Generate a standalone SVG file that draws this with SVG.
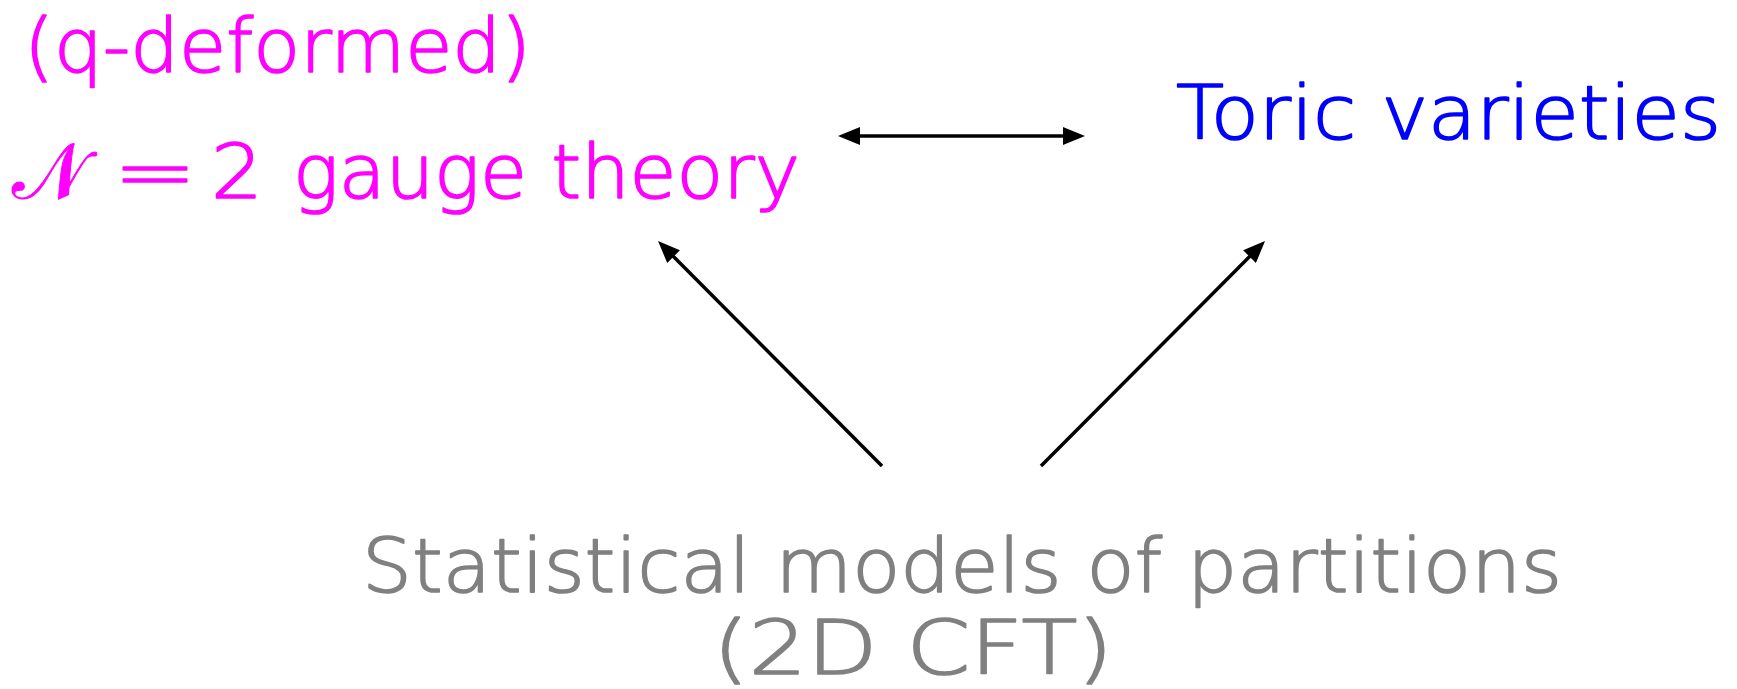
<svg xmlns="http://www.w3.org/2000/svg" width="1737" height="689" viewBox="0 0 1737 689">
<defs>
<style>
.t{font-family:"DejaVu Sans","Liberation Sans",sans-serif;font-size:74px;font-weight:200;stroke-width:1.6;stroke-linejoin:round}
.mg{fill:#ff00ff;stroke:#ff00ff}
.bl{fill:#0000ff;stroke:#0000ff}
.gr{fill:#808080;stroke:#808080}
.c{stroke:#000;stroke-width:3.5;fill:none}
</style>
<marker id="ah" markerUnits="userSpaceOnUse" markerWidth="22" markerHeight="18" refX="14" refY="9" orient="auto-start-reverse" viewBox="0 0 22 18">
<path d="M0,0 L22,9 L0,18 z" fill="#000"/>
</marker>
</defs>
<rect width="1737" height="689" fill="#fff"/>
<g id="gauge">
<text class="t mg" x="24" y="72" font-size="77" textLength="507" lengthAdjust="spacingAndGlyphs">(q-deformed)</text>
<text class="mg" x="12" y="198" font-family="DejaVu Serif, Liberation Serif, serif" font-size="78">𝒩</text>
<text class="t mg" x="113" y="198" textLength="84" lengthAdjust="spacingAndGlyphs">=</text>
<text class="t mg" x="211" y="198" textLength="52" lengthAdjust="spacingAndGlyphs">2</text>
<text class="t mg" x="293" y="198" textLength="507" lengthAdjust="spacingAndGlyphs">gauge theory</text>
</g>
<g id="toric">
<text class="t bl" x="1176" y="139" textLength="545" lengthAdjust="spacingAndGlyphs">Toric varieties</text>
</g>
<g id="stat">
<text class="t gr" x="362" y="592" textLength="1200" lengthAdjust="spacingAndGlyphs">Statistical models of partitions</text>
<text class="t gr" x="713" y="674" textLength="400" lengthAdjust="spacingAndGlyphs">(2D CFT)</text>
</g>
<g id="connectors">
<line class="c" x1="846" y1="136" x2="1077" y2="136" marker-start="url(#ah)" marker-end="url(#ah)"/>
<line class="c" x1="882" y1="466" x2="663.7" y2="246.7" marker-end="url(#ah)"/>
<line class="c" x1="1041" y1="466" x2="1259.4" y2="246.7" marker-end="url(#ah)"/>
</g>
</svg>
